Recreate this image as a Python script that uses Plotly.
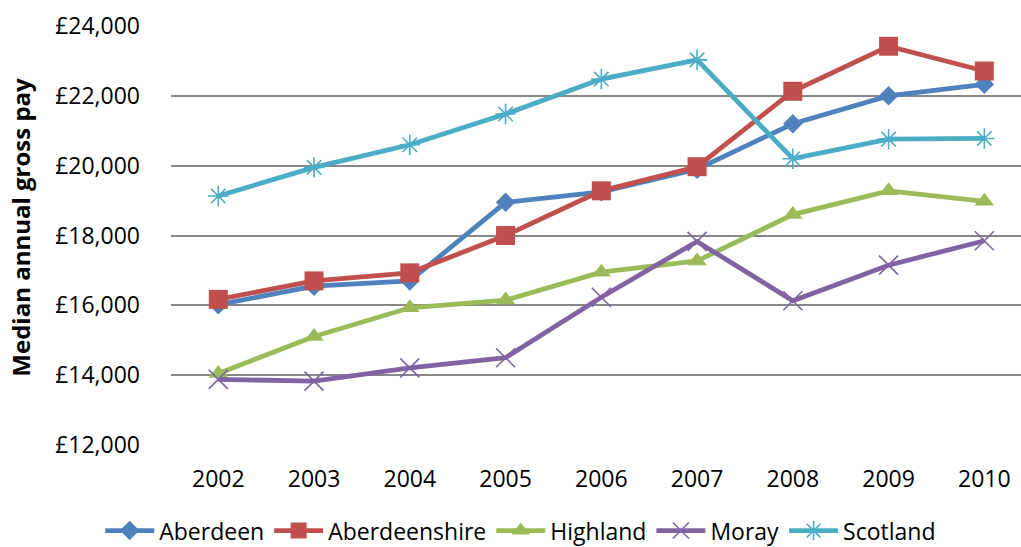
import plotly.graph_objects as go

years = ["2002", "2003", "2004", "2005", "2006", "2007", "2008", "2009", "2010"]

aberdeen = [16020, 16550, 16700, 18950, 19250, 19900, 21200, 22000, 22330]
aberdeenshire = [16170, 16700, 16930, 18000, 19280, 19970, 22130, 23420, 22710]
highland = [14050, 15110, 15930, 16150, 16950, 17270, 18600, 19280, 18980]
moray = [13880, 13830, 14210, 14500, 16230, 17830, 16130, 17150, 17850]
scotland = [19130, 19950, 20600, 21480, 22480, 23030, 20200, 20760, 20780]

y_ticks = [12000, 14000, 16000, 18000, 20000, 22000, 24000]
y_tick_labels = ["£12,000", "£14,000", "£16,000", "£18,000", "£20,000", "£22,000", "£24,000"]

FONT = "Open Sans"

series = [
    ("Aberdeen", aberdeen, "#4F81BD", dict(symbol="diamond", size=15)),
    ("Aberdeenshire", aberdeenshire, "#C0504D", dict(symbol="square", size=19)),
    ("Highland", highland, "#9BBB59", dict(symbol="triangle-up", size=17)),
    ("Moray", moray, "#8064A2", dict(symbol="x-thin-open", size=19, line=dict(width=1.6))),
    ("Scotland", scotland, "#4BACC6", dict(symbol="asterisk-open", size=17, line=dict(width=1.6))),
]

fig = go.Figure()
for name, values, color, marker in series:
    mk = dict(marker)
    mk["color"] = color
    if "line" in mk:
        mk["line"] = dict(mk["line"], color=color)
    fig.add_trace(go.Scatter(
        x=list(range(len(years))), y=values, name=name,
        mode="lines+markers", line=dict(color=color, width=4.8), marker=mk,
    ))

fig.update_layout(
    width=1021, height=547,
    margin=dict(l=171, r=0, t=26, b=102),
    paper_bgcolor="white", plot_bgcolor="white",
    font=dict(family=FONT, size=23, color="black"),
    showlegend=True,
    legend=dict(
        orientation="h", xref="container", yref="container",
        x=0.51, xanchor="center", y=0.03, yanchor="middle",
        font=dict(family=FONT, size=23), itemwidth=49,
    ),
    xaxis=dict(
        tickmode="array", tickvals=list(range(len(years))), ticktext=years,
        range=[-0.494, 8.383], showgrid=False, zeroline=False, showline=False,
        ticks="", ticklabelstandoff=18, tickfont=dict(size=23),
    ),
    yaxis=dict(
        range=[12000, 24000], tickvals=y_ticks, ticktext=y_tick_labels,
        showgrid=True, gridcolor="#888888", gridwidth=1.6, zeroline=False,
        showline=False, ticks="", ticklabelstandoff=30, tickfont=dict(size=23),
    ),
    annotations=[dict(
        text="<b>Median annual gross pay</b>", textangle=-90,
        xref="paper", yref="paper", x=-0.177, y=0.52,
        xanchor="center", yanchor="middle", showarrow=False,
        font=dict(family=FONT, size=24, color="black"),
    )],
)

fig.write_html("out.html")
